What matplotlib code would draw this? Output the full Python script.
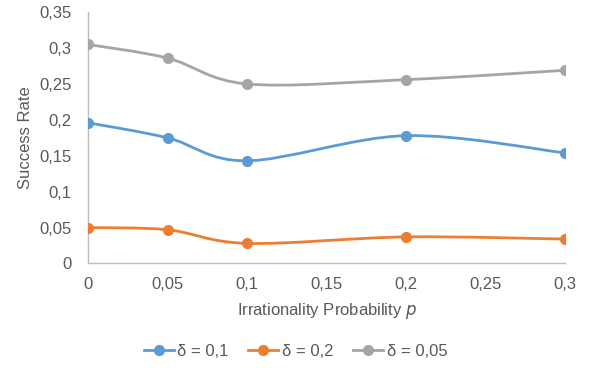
import numpy as np
import matplotlib
matplotlib.use("Agg")
import matplotlib.pyplot as plt
from matplotlib.path import Path
from matplotlib.patches import PathPatch
from matplotlib.lines import Line2D
from matplotlib.ticker import FuncFormatter

plt.rcParams['font.family'] = ['Liberation Sans', 'DejaVu Sans']

p_values = [0.0, 0.05, 0.1, 0.2, 0.3]
rate_d01 = [0.196, 0.175, 0.143, 0.178, 0.154]
rate_d02 = [0.050, 0.047, 0.028, 0.037, 0.034]
rate_d005 = [0.305, 0.286, 0.250, 0.256, 0.269]
series_labels = ["δ = 0,1", "δ = 0,2", "δ = 0,05"]
colors = ["#5B9BD5", "#ED7D31", "#A5A5A5"]
text_color = "#595959"
axis_color = "#BFBFBF"


def smooth_path(x, y):
    """Cubic Bezier spline through the points (Catmull-Rom style, tension 1/6)."""
    pts = np.column_stack([x, y]).astype(float)
    n = len(pts)
    verts = [pts[0]]
    codes = [Path.MOVETO]
    for i in range(n - 1):
        p0 = pts[i - 1] if i > 0 else pts[i]
        p1 = pts[i]
        p2 = pts[i + 1]
        p3 = pts[i + 2] if i + 2 < n else pts[i + 1]
        c1 = p1 + (p2 - p0) / 6.0
        c2 = p2 - (p3 - p1) / 6.0
        verts += [c1, c2, p2]
        codes += [Path.CURVE4] * 3
    return Path(verts, codes)


fig = plt.figure(figsize=(5.91, 3.68), dpi=100)
ax = fig.add_axes([0.149, 0.284, 0.807, 0.683])

handles = []
for ys, c, lab in zip([rate_d01, rate_d02, rate_d005], colors, series_labels):
    path = smooth_path(p_values, ys)
    ax.add_patch(PathPatch(path, facecolor="none", edgecolor=c, lw=2.0,
                           capstyle="round", joinstyle="round", zorder=2))
    ax.plot(p_values, ys, linestyle="none", marker="o", ms=7, color=c, zorder=3)
    handles.append(Line2D([], [], color=c, lw=2.0, marker="o", ms=7, label=lab))

ax.set_xlim(0, 0.3)
ax.set_ylim(0, 0.35)
ax.set_xticks(np.arange(0, 0.301, 0.05))
ax.set_yticks(np.arange(0, 0.351, 0.05))

fmt = FuncFormatter(lambda v, _: ("%g" % round(v, 4)).replace(".", ","))
ax.xaxis.set_major_formatter(fmt)
ax.yaxis.set_major_formatter(fmt)

for s in ["top", "right"]:
    ax.spines[s].set_visible(False)
for s in ["left", "bottom"]:
    ax.spines[s].set_color(axis_color)
    ax.spines[s].set_linewidth(1.0)

ax.tick_params(length=0, labelsize=12, colors=text_color, pad=10)
ax.tick_params(axis="y", pad=12)

ax.set_xlabel("Irrationality Probability $p$", fontsize=12, color=text_color, labelpad=6)
ax.set_ylabel("Success Rate", fontsize=12, color=text_color, labelpad=4)

fig.legend(handles=handles, loc="center", bbox_to_anchor=(0.5, 0.045), ncol=3,
           frameon=False, fontsize=12, labelcolor=text_color, handlelength=1.8,
           handletextpad=0.2, columnspacing=1.2)

fig.savefig("out.png", dpi=100)
